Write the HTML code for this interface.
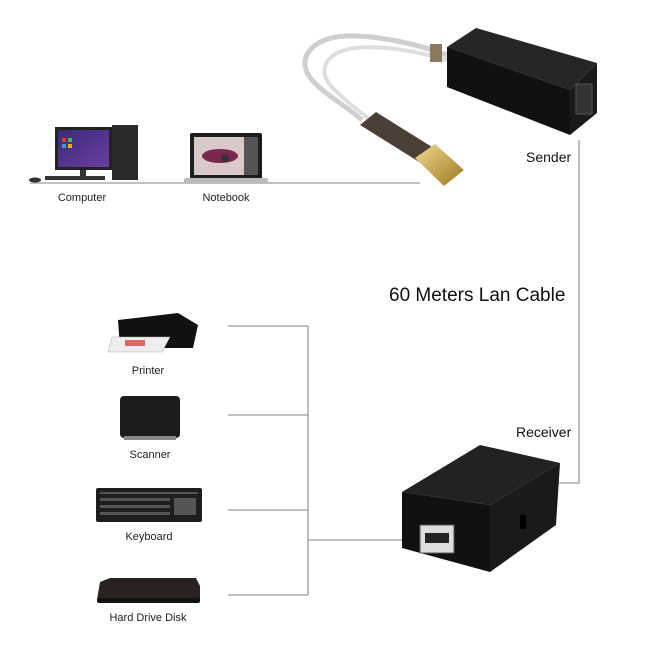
<!DOCTYPE html>
<html><head><style>
body{margin:0;background:#fff}
svg{display:block}
text{font-family:"Liberation Sans",sans-serif}
</style></head><body>
<svg width="650" height="650" viewBox="0 0 650 650">
<defs>
<linearGradient id="gold" x1="0" y1="0" x2="1" y2="1"><stop offset="0" stop-color="#f0d890"/><stop offset="1" stop-color="#a07820"/></linearGradient>
<linearGradient id="scr" x1="0" y1="0" x2="1" y2="1"><stop offset="0" stop-color="#3a2a7a"/><stop offset="1" stop-color="#6a3fa0"/></linearGradient>
</defs>
<g stroke="#9a9a9a" stroke-width="1.3" fill="none">
<line x1="30" y1="183" x2="420" y2="183"/>
<polyline points="579,140 579,483 555,483"/>
<line x1="228" y1="326" x2="308" y2="326"/>
<line x1="228" y1="415" x2="308" y2="415"/>
<line x1="228" y1="510" x2="308" y2="510"/>
<line x1="228" y1="595" x2="308" y2="595"/>
<line x1="308" y1="326" x2="308" y2="595"/>
<line x1="308" y1="540" x2="410" y2="540"/>
</g>
<!-- computer -->
<rect x="55" y="127" width="57" height="43" fill="#222"/>
<rect x="58" y="130" width="51" height="37" fill="url(#scr)"/>
<rect x="62" y="138" width="4" height="4" fill="#e33"/><rect x="68" y="138" width="4" height="4" fill="#3c3"/><rect x="62" y="144" width="4" height="4" fill="#39f"/><rect x="68" y="144" width="4" height="4" fill="#fa0"/>
<rect x="80" y="170" width="6" height="6" fill="#333"/>
<rect x="112" y="125" width="26" height="55" fill="#2a2a2a"/>
<rect x="45" y="176" width="60" height="4" fill="#333"/>
<ellipse cx="35" cy="180" rx="6" ry="2.5" fill="#333"/>
<!-- laptop -->
<rect x="190" y="133" width="72" height="46" rx="2" fill="#1e1e1e"/>
<rect x="194" y="137" width="64" height="38" fill="#d8c8c8"/>
<ellipse cx="220" cy="156" rx="18" ry="7" fill="#7a2850"/>
<circle cx="225" cy="158" r="4" fill="#333"/>
<rect x="244" y="137" width="14" height="38" fill="#555"/>
<rect x="184" y="178" width="84" height="5" rx="2" fill="#bbb"/>
<!-- cable -->
<path d="M447 55 C420 45 380 35 345 36 C310 38 295 60 312 80 C325 95 345 105 362 120" stroke="#cfcfcf" stroke-width="5" fill="none"/>
<path d="M447 60 C420 52 385 45 355 48 C325 52 318 70 330 85 C342 98 355 108 368 118" stroke="#dedede" stroke-width="4" fill="none"/>
<rect x="430" y="44" width="12" height="18" fill="#8a7a60"/>
<!-- usb plug -->
<polygon points="360,125 376,112 440,152 424,165" fill="#4a4036"/>
<polygon points="415,158 435,144 464,170 444,186" fill="url(#gold)"/>
<!-- sender box -->
<polygon points="447,47 476,28 597,63 570,90" fill="#262626"/>
<polygon points="447,47 570,90 570,135 447,87" fill="#111"/>
<polygon points="570,90 597,63 597,113 570,135" fill="#1a1a1a"/>
<rect x="576" y="84" width="16" height="30" fill="#333" stroke="#555"/>
<!-- printer -->
<polygon points="118,320 178,313 198,325 193,348 120,348" fill="#111"/>
<polygon points="112,337 170,337 162,352 108,352" fill="#eee" stroke="#aaa" stroke-width="0.5"/>
<rect x="125" y="340" width="20" height="6" fill="#d66"/>
<!-- scanner -->
<rect x="120" y="396" width="60" height="42" rx="4" fill="#1c1c1c"/>
<rect x="124" y="436" width="52" height="4" fill="#888"/>
<!-- keyboard -->
<rect x="96" y="488" width="106" height="34" rx="2" fill="#1e1e1e"/>
<g fill="#555"><rect x="100" y="492" width="98" height="2"/><rect x="100" y="498" width="70" height="3"/><rect x="100" y="505" width="70" height="3"/><rect x="100" y="512" width="70" height="3"/><rect x="174" y="498" width="22" height="17"/></g>
<!-- hdd -->
<polygon points="100,582 110,578 196,578 200,586 200,600 97,600" fill="#2a2220"/>
<rect x="97" y="598" width="103" height="5" rx="2" fill="#111"/>
<!-- receiver box -->
<polygon points="402,492 480,445 560,463 490,505" fill="#222"/>
<polygon points="402,492 490,505 490,572 402,548" fill="#111"/>
<polygon points="490,505 560,463 556,525 490,572" fill="#1a1a1a"/>
<rect x="420" y="525" width="34" height="28" fill="#ddd" stroke="#555"/>
<rect x="425" y="533" width="24" height="10" fill="#222"/>
<rect x="520" y="515" width="6" height="14" fill="#000"/>
<g font-size="11" fill="#222" text-anchor="middle">
<text x="82" y="201">Computer</text>
<text x="226" y="201">Notebook</text>
<text x="148" y="374">Printer</text>
<text x="150" y="458">Scanner</text>
<text x="149" y="540">Keyboard</text>
<text x="148" y="621">Hard Drive Disk</text>
</g>
<g font-size="14" fill="#111">
<text x="526" y="162">Sender</text>
<text x="516" y="437">Receiver</text>
</g>
<text x="389" y="301" font-size="19" fill="#111">60 Meters Lan Cable</text>
</svg>
</body></html>
